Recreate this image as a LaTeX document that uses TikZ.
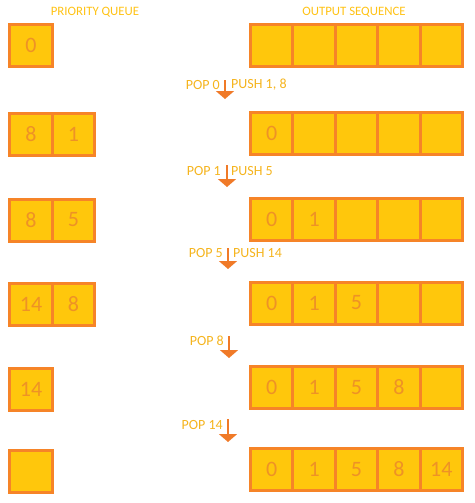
\documentclass[tikz,border=0pt]{standalone}
\usepackage{fontspec}
\setmainfont{Carlito}
\usetikzlibrary{arrows.meta}
\definecolor{cellfill}{RGB}{255,199,12}
\definecolor{cellborder}{RGB}{246,132,40}
\definecolor{numcol}{RGB}{238,146,38}
\definecolor{headcol}{RGB}{255,194,20}
\definecolor{labcol}{RGB}{245,180,30}
\definecolor{arrcol}{RGB}{240,122,40}
\tikzset{
  cell/.style={rectangle, draw=cellborder, fill=cellfill, line width=3pt,
    minimum width=42.4pt, minimum height=42pt, inner sep=0pt, text=numcol,
    font=\fontsize{22}{22}\selectfont},
  head/.style={text=headcol, font=\fontsize{12.8}{13}\selectfont, inner sep=0pt},
  lab/.style={text=labcol, font=\fontsize{14}{14}\selectfont, inner sep=0pt},
  flow/.style={draw=arrcol, line width=2.5pt, -{Triangle[width=18pt,length=8pt]}}
}
\begin{document}
\begin{tikzpicture}[x=1pt,y=-1pt]
\useasboundingbox (0,0) rectangle (474,503);
% headers
\node[head] (hq) at (95,12) {PRIORITY QUEUE};
\node[head] (ho) at (354,12) {OUTPUT SEQUENCE};
% left column (priority queue)
\node[cell] (q1a) at (31,45.5) {0};
\node[cell] (q2a) at (31,134) {8};
\node[cell] (q2b) at (73.4,134) {1};
\node[cell] (q3a) at (31,220) {8};
\node[cell] (q3b) at (73.4,220) {5};
\node[cell] (q4a) at (31,304.5) {14};
\node[cell] (q4b) at (73.4,304.5) {8};
\node[cell] (q5a) at (31,389) {14};
\node[cell] (q6a) at (31,471) {};
% right column (output sequence)
\foreach \r/\y/\a/\b/\c/\d/\e in {1/45.5/{}/{}/{}/{}/{}, 2/133/0/{}/{}/{}/{}, 3/219/0/1/{}/{}/{}, 4/303/0/1/5/{}/{}, 5/387.5/0/1/5/8/{}, 6/469.5/0/1/5/8/14}{
  \node[cell] (o\r a) at (271.7,\y) {\a};
  \node[cell] (o\r b) at (314.1,\y) {\b};
  \node[cell] (o\r c) at (356.5,\y) {\c};
  \node[cell] (o\r d) at (398.9,\y) {\d};
  \node[cell] (o\r e) at (441.3,\y) {\e};
}
% step arrows and labels
\coordinate (s1) at (225,80);   \coordinate (t1) at (225,99);
\coordinate (s2) at (227,165);  \coordinate (t2) at (227,187);
\coordinate (s3) at (228,248);  \coordinate (t3) at (228,269);
\coordinate (s4) at (229,336);  \coordinate (t4) at (229,358);
\coordinate (s5) at (228,419);  \coordinate (t5) at (228,442);
\draw[flow] (s1) -- (t1);
\draw[flow] (s2) -- (t2);
\draw[flow] (s3) -- (t3);
\draw[flow] (s4) -- (t4);
\draw[flow] (s5) -- (t5);
\node[lab, anchor=east] (p1) at (220,85) {POP 0};
\node[lab, anchor=west] (u1) at (231,85) {PUSH 1, 8};
\node[lab, anchor=east] (p2) at (221,171) {POP 1};
\node[lab, anchor=west] (u2) at (231,171) {PUSH 5};
\node[lab, anchor=east] (p3) at (223,253) {POP 5};
\node[lab, anchor=west] (u3) at (233,253) {PUSH 14};
\node[lab, anchor=east] (p4) at (224,341) {POP 8};
\node[lab, anchor=east] (p5) at (223,425) {POP 14};
\end{tikzpicture}
\end{document}
